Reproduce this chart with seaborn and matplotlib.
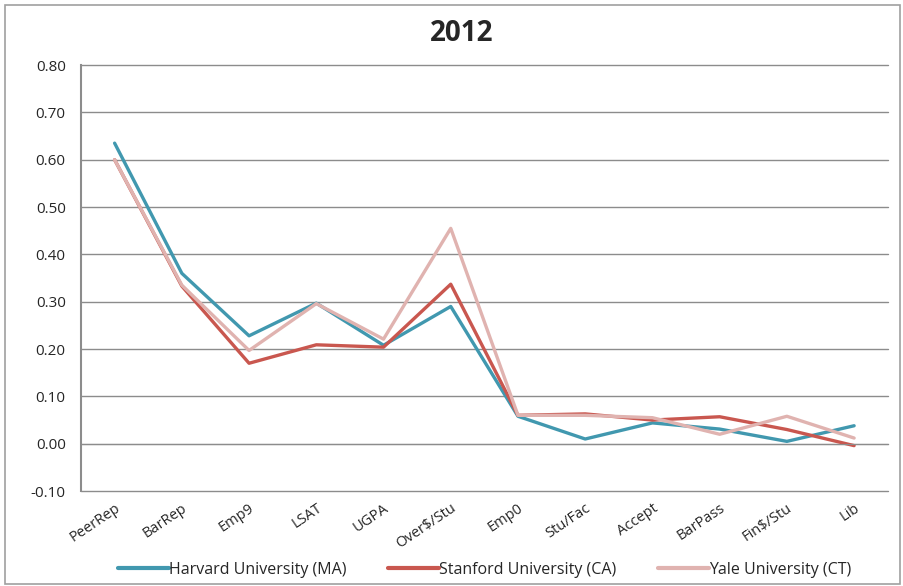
import pandas as pd
import numpy as np
import seaborn as sns
import matplotlib.pyplot as plt
from matplotlib.patches import Rectangle

# values
categories = ['PeerRep', 'BarRep', 'Emp9', 'LSAT', 'UGPA', 'Over$/Stu',
              'Emp0', 'Stu/Fac', 'Accept', 'BarPass', 'Fin$/Stu', 'Lib']
harvard = [0.635, 0.360, 0.228, 0.297, 0.208, 0.290, 0.058, 0.010, 0.044, 0.031, 0.005, 0.038]
stanford = [0.600, 0.333, 0.170, 0.209, 0.204, 0.337, 0.060, 0.063, 0.050, 0.057, 0.030, -0.004]
yale = [0.600, 0.335, 0.197, 0.296, 0.221, 0.455, 0.060, 0.060, 0.055, 0.020, 0.058, 0.012]
schools = ['Harvard University (MA)', 'Stanford University (CA)', 'Yale University (CT)']
colors = ['#4198AF', '#C9574F', '#E0B3B0']
yticks = [-0.10, 0.00, 0.10, 0.20, 0.30, 0.40, 0.50, 0.60, 0.70, 0.80]

df = pd.concat([
    pd.DataFrame({'measure': categories, 'value': v, 'school': s})
    for v, s in zip([harvard, stanford, yale], schools)
], ignore_index=True)

sns.set_style('white')
plt.rcParams['font.family'] = ['Open Sans', 'DejaVu Sans']

fig = plt.figure(figsize=(9.04, 5.86), dpi=100)
ax = fig.add_axes([0.0896, 0.162, 0.8924, 0.727])

sns.lineplot(data=df, x='measure', y='value', hue='school', palette=colors,
             sort=False, linewidth=2.4, ax=ax, legend=True)

grid_c = '#8C8C8C'
ax.set_ylim(-0.10, 0.80)
ax.set_xlim(-0.5, len(categories) - 0.5)
ax.set_yticks(yticks)
ax.set_yticklabels([f'{t:.2f}' for t in yticks], fontsize=11)
ax.yaxis.grid(True, color=grid_c, linewidth=1)
for gl in ax.get_ygridlines():
    gl.set_clip_on(False)
ax.set_axisbelow(True)
ax.tick_params(axis='y', length=5, color=grid_c, width=1, pad=6)

# category axis crosses at zero, labels sit below the plot
ax.spines['bottom'].set_position(('data', 0))
ax.spines['bottom'].set_color(grid_c)
ax.spines['left'].set_color(grid_c)
ax.spines['left'].set_linewidth(1.5)
ax.spines['top'].set_visible(False)
ax.spines['right'].set_visible(False)
ax.set_xticks(range(len(categories)))
ax.set_xticklabels(categories, rotation=34, ha='right', rotation_mode='anchor', fontsize=10.5)
ax.set_xticks(np.arange(-0.5, len(categories), 1.0), minor=True)
ax.tick_params(axis='x', which='major', length=0, pad=41)
ax.tick_params(axis='x', which='minor', length=5, color=grid_c, width=1)
ax.set_xlabel('')
ax.set_ylabel('')

# title is centred on the chart area, not the plot area
fig.text(0.511, 0.943, '2012', fontsize=20, fontweight='bold', ha='center', va='center')

leg = ax.legend(loc='center', bbox_to_anchor=(0.5, -0.185), ncol=3, frameon=False,
                fontsize=11.5, handlelength=3.2, handletextpad=0.0, columnspacing=2.6)
for line in leg.get_lines():
    line.set_linewidth(3)

fig.patches.append(Rectangle((0.006, 0.004), 0.99, 0.988, transform=fig.transFigure,
                             fill=False, edgecolor='#A0A0A0', linewidth=1.2))

fig.savefig('out.png', dpi=100)
